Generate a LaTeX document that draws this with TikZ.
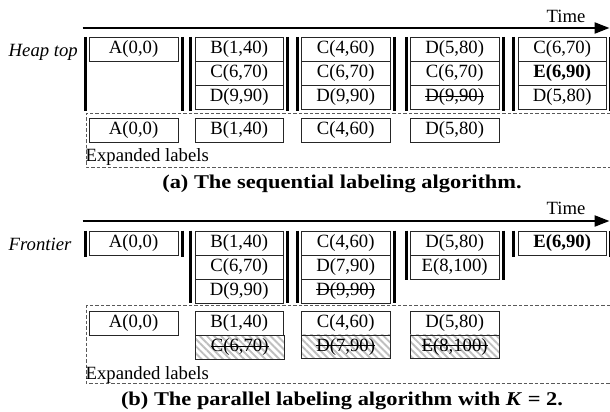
\documentclass[tikz,border=0pt]{standalone}
\usepackage{fontspec}
\setmainfont{Liberation Serif}
\usepackage{graphicx}
\newsavebox\strkbox
\newcommand\mystrike[1]{\sbox\strkbox{#1}\rlap{\rule[0.27em]{\wd\strkbox}{0.9pt}}\usebox\strkbox}
\usetikzlibrary{arrows.meta,patterns.meta}
\newcommand\lblfont{\fontsize{18.7}{20}\selectfont}
\newcommand\capfont{\fontsize{19.5}{21}\selectfont\bfseries}
\begin{document}
\begin{tikzpicture}[x=1pt,y=-1pt,
  cell/.style={draw=black!85, line width=0.8pt, minimum width=88.5pt, minimum height=24pt,
    inner sep=0pt, anchor=north west, font=\lblfont},
  ecell/.style={cell, minimum height=23.5pt},
  hcell/.style={ecell, pattern={Lines[angle=-45,distance=5pt,line width=1.9pt]}, pattern color=black!25},
  bar/.style={line width=3pt, draw=black},
  dsh/.style={dash pattern=on 3.5pt off 2pt, line width=0.8pt, draw=black!65},
  timeax/.style={line width=2.3pt, -{Triangle[length=15pt,width=11pt]}},
  txt/.style={inner sep=0pt, font=\lblfont}]
\useasboundingbox (0,0) rectangle (610,412);

% ---------------- (a) ----------------
\coordinate (ta0) at (82.5,28);
\coordinate (ta1) at (609.5,28);
\draw[timeax] (ta0) -- (ta1);
\node[txt] (timea) at (566,16) {Time};
\node[txt, anchor=west] (heaptop) at (8.5,52) {\itshape Heap top};

\node[cell] (a11) at (89,37) {A(0,0)};

\node[cell] (a21) at (194.5,37) {B(1,40)};
\node[cell] (a22) at (194.5,61) {C(6,70)};
\node[cell] (a23) at (194.5,85) {D(9,90)};

\node[cell] (a31) at (301,37) {C(4,60)};
\node[cell] (a32) at (301,61) {C(6,70)};
\node[cell] (a33) at (301,85) {D(9,90)};

\node[cell] (a41) at (410,37) {D(5,80)};
\node[cell] (a42) at (410,61) {C(6,70)};
\node[cell] (a43) at (410,85) {\mystrike{D(9,90)}};

\node[cell] (a51) at (517.5,37) {C(6,70)};
\node[cell] (a52) at (517.5,61) {\textbf{E(6,90)}};
\node[cell] (a53) at (517.5,85) {D(5,80)};

\foreach \x in {85,182,190.5,287.5,297,394,406,503,513.5,610.5}
  \draw[bar] (\x,37) -- (\x,111);

\draw[dsh] (610,113) -- (86,113) -- (86,167) -- (610,167);
\node[ecell] (ea1) at (89,118) {A(0,0)};
\node[ecell] (ea2) at (194.5,118) {B(1,40)};
\node[ecell] (ea3) at (301,118) {C(4,60)};
\node[ecell] (ea4) at (410,118) {D(5,80)};
\node[txt, anchor=west] (expa) at (85.5,157.5) {Expanded labels};

\node[inner sep=0pt] (capa) at (342,183.5)
  {\capfont\scalebox{1.15}[1]{(a) The sequential labeling algorithm.}};

% ---------------- (b) ----------------
\coordinate (tb0) at (82.5,221);
\coordinate (tb1) at (609.5,221);
\draw[timeax] (tb0) -- (tb1);
\node[txt] (timeb) at (566,208) {Time};
\node[txt, anchor=west] (frontier) at (8.5,244.5) {\itshape Frontier};

\node[cell] (b11) at (89,230.5) {A(0,0)};

\node[cell] (b21) at (194.5,230.5) {B(1,40)};
\node[cell] (b22) at (194.5,254.5) {C(6,70)};
\node[cell] (b23) at (194.5,278.5) {D(9,90)};

\node[cell] (b31) at (301,230.5) {C(4,60)};
\node[cell] (b32) at (301,254.5) {D(7,90)};
\node[cell] (b33) at (301,278.5) {\mystrike{D(9,90)}};

\node[cell] (b41) at (410,230.5) {D(5,80)};
\node[cell] (b42) at (410,254.5) {E(8,100)};

\node[cell] (b51) at (517.5,230.5) {\textbf{E(6,90)}};

\foreach \x in {85,182,513.5,610.5}
  \draw[bar] (\x,230.5) -- (\x,256.5);
\foreach \x in {190.5,287.5,297,394}
  \draw[bar] (\x,230.5) -- (\x,303);
\foreach \x in {406,503}
  \draw[bar] (\x,230.5) -- (\x,280);

\draw[dsh] (610,305.5) -- (86,305.5) -- (86,383.5) -- (610,383.5);
\node[ecell] (eb1) at (89,311) {A(0,0)};
\node[ecell] (eb2) at (194.5,311) {B(1,40)};
\node[hcell] (eb2h) at (194.5,334.5) {\mystrike{C(6,70)}};
\node[ecell] (eb3) at (301,311) {C(4,60)};
\node[hcell] (eb3h) at (301,334.5) {\mystrike{D(7,90)}};
\node[ecell] (eb4) at (410,311) {D(5,80)};
\node[hcell] (eb4h) at (410,334.5) {\mystrike{E(8,100)}};
\node[txt, anchor=west] (expb) at (85.5,374.5) {Expanded labels};

\node[inner sep=0pt] (capb) at (342,400.5)
  {\capfont\scalebox{1.15}[1]{(b) The parallel labeling algorithm with \textit{K} = 2.}};
\end{tikzpicture}
\end{document}
